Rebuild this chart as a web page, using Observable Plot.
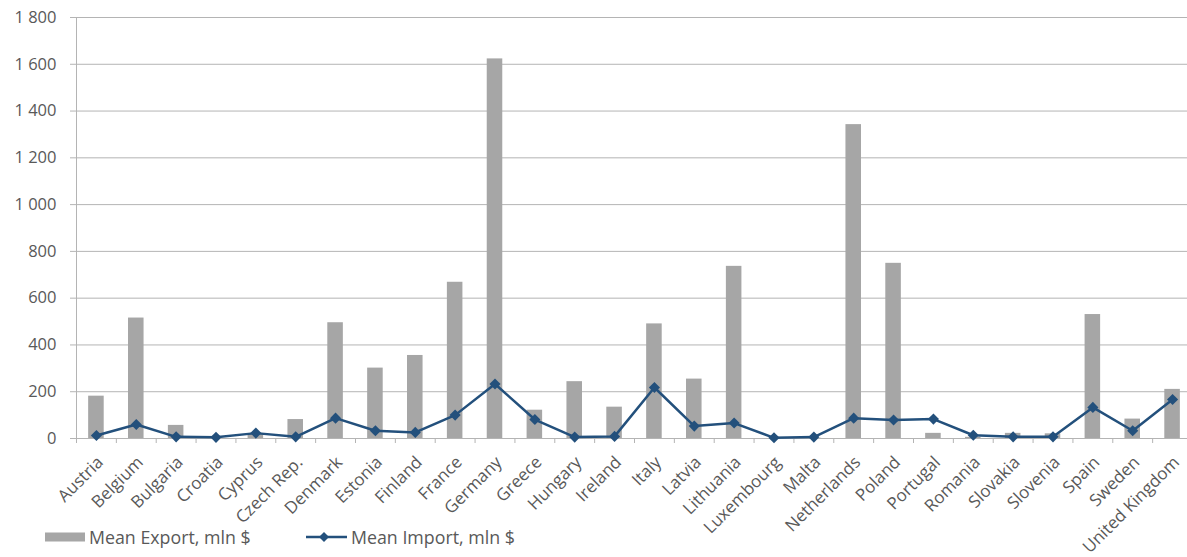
<!DOCTYPE html>
<html>
<head>
<meta charset="utf-8">
<script src="https://cdn.jsdelivr.net/npm/d3@7"></script>
<script src="https://cdn.jsdelivr.net/npm/@observablehq/plot@0.6"></script>
<style>
  html, body { margin: 0; padding: 0; background: #fff; overflow: hidden; }
  #wrap { position: relative; width: 1187px; height: 557px; font-family: "Open Sans", Lato, sans-serif; }
  #legend { position: absolute; left: 45px; top: 526px; height: 22px; display: flex; align-items: center; font-size: 17.8px; color: #595959; white-space: nowrap; }
  #legend .item { display: flex; align-items: center; }
  #legend .item1 { width: 261px; }
  #legend svg { margin-right: 3px; }
</style>
</head>
<body>
<div id="wrap">
  <div id="chart"></div>
  <div id="legend">
    <div class="item item1"><svg width="41" height="12"><rect x="0" y="1.5" width="40" height="9" fill="#a6a6a6"></rect></svg><span>Mean Export, mln $</span></div>
    <div class="item"><svg width="42" height="12"><line x1="0" y1="6" x2="41" y2="6" stroke="#23507c" stroke-width="2.5"></line><path d="M18,1 L23,6 L18,11 L13,6 Z" fill="#23507c"></path></svg><span>Mean Import, mln $</span></div>
  </div>
</div>
<script>
const countries = ["Austria","Belgium","Bulgaria","Croatia","Cyprus","Czech Rep.","Denmark","Estonia","Finland","France","Germany","Greece","Hungary","Ireland","Italy","Latvia","Lithuania","Luxembourg","Malta","Netherlands","Poland","Portugal","Romania","Slovakia","Slovenia","Spain","Sweden","United Kingdom"];
const exportVals = [181, 515, 56, 1, 20, 81, 495, 301, 355, 668, 1623, 121, 243, 134, 490, 254, 736, 0, 1, 1342, 749, 22, 5, 22, 20, 530, 83, 210];
const importVals = [13, 60, 7, 5, 23, 7, 87, 33, 26, 100, 233, 81, 6, 9, 218, 53, 66, 3, 6, 87, 79, 83, 14, 7, 7, 133, 33, 167];
const yTicks = [0, 200, 400, 600, 800, 1000, 1200, 1400, 1600, 1800];

const data = countries.map((c, i) => ({country: c, exp: exportVals[i], imp: importVals[i]}));

const W = 1187, H = 557, mL = 76, mR = -5, mT = 17, mB = 119;
const step = (W - mR - mL) / countries.length;
const fmt = d3.formatLocale({decimal: ".", thousands: "\u00a0", grouping: [3], currency: ["", ""]}).format(",d");
const gridColor = "#b4b4b4";
const textColor = "#595959";

const chart = Plot.plot({
  width: W,
  height: H,
  marginLeft: mL,
  marginRight: mR,
  marginTop: mT,
  marginBottom: mB,
  style: {fontFamily: "'Open Sans', Lato, sans-serif", fontSize: "16px", color: textColor, background: "#fff", overflow: "visible"},
  x: {type: "band", domain: countries, paddingInner: 0.61, paddingOuter: 0.305, round: false},
  y: {domain: [0, 1800]},
  marks: [
    Plot.gridY(yTicks, {stroke: gridColor, strokeOpacity: 1, strokeWidth: 1}),
    Plot.axisY(yTicks, {tickFormat: fmt, tickSize: 6, tickPadding: 14, stroke: gridColor, label: null, fontSize: 16.5, fill: textColor}),
    Plot.barY(data, {x: "country", y: "exp", fill: "#a6a6a6"}),
    Plot.ruleX([countries[0]], {y1: 0, y2: 1800, dx: -step / 2, stroke: gridColor, strokeWidth: 1}),
    Plot.axisX({tickSize: 5, dx: -step / 2, text: null, stroke: gridColor, label: null}),
    Plot.axisX({tickSize: 0, tickRotate: -45, tickPadding: 21, dx: 4, label: null, fontSize: 17, fill: textColor}),
    Plot.ruleY([0], {stroke: gridColor, strokeWidth: 1}),
    Plot.line(data, {x: "country", y: "imp", stroke: "#23507c", strokeWidth: 2.5}),
    Plot.dot(data, {x: "country", y: "imp", symbol: "diamond2", r: 5, fill: "#23507c", stroke: "none"})
  ]
});
document.getElementById("chart").appendChild(chart);
</script>
</body>
</html>
